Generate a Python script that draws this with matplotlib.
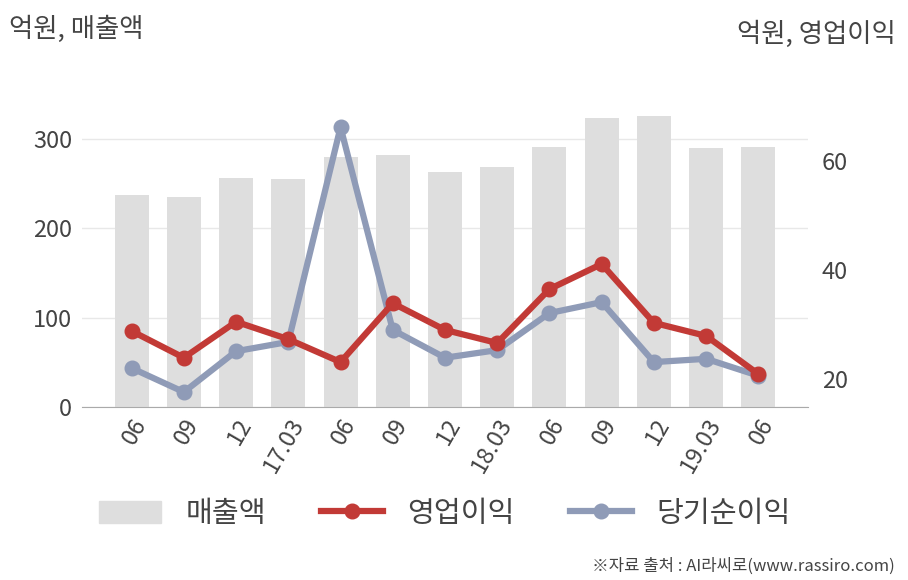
import matplotlib.pyplot as plt
import numpy as np
from matplotlib.patches import Patch
from matplotlib.lines import Line2D

plt.rcParams['font.family'] = ['Noto Sans CJK KR', 'DejaVu Sans']
plt.rcParams['font.weight'] = 'light'

# 분기 라벨
labels = ['06', '09', '12', '17.03', '06', '09', '12', '18.03', '06', '09', '12', '19.03', '06']
sales = [238, 235, 256, 255, 280, 282, 263, 269, 291, 324, 326, 290, 291]       # 매출액
op_profit = [28.8, 23.9, 30.5, 27.3, 23.1, 33.9, 29.0, 26.6, 36.5, 41.1, 30.3, 27.9, 20.9]  # 영업이익
net_profit = [22.0, 17.6, 25.1, 26.8, 66.2, 29.0, 23.9, 25.3, 32.1, 34.1, 23.1, 23.7, 20.6]  # 당기순이익

bar_col = '#dedede'
red = '#c23a36'
blue = '#8f9bb7'
txt = '#444444'

fig = plt.figure(figsize=(9.08, 5.80), dpi=100)
ax = fig.add_axes([82/908, 1-407/580, (808-82)/908, (407-94.5)/580])
x = np.arange(len(labels))

ax.bar(x, sales, width=0.65, color=bar_col, zorder=1)
ax.set_ylim(0, 350)
ax.set_xlim(-0.95, 12.95)
ax.set_yticks([0, 100, 200, 300])
ax.grid(axis='y', color='#e8e8e8', linewidth=1, zorder=0)
ax.set_axisbelow(True)
for s in ['top', 'right', 'left']:
    ax.spines[s].set_visible(False)
ax.spines['bottom'].set_color('#aaaaaa')
ax.tick_params(axis='y', length=0, labelsize=17, labelcolor=txt, pad=7)
ax.tick_params(axis='x', length=0, labelsize=17, labelcolor=txt, pad=5)
ax.set_xticks(x)
ax.set_xticklabels(labels, rotation=60, ha='right', rotation_mode='anchor')

ax2 = ax.twinx()
ax2.plot(x, net_profit, color=blue, lw=4.5, marker='o', ms=10.5, zorder=3)
ax2.plot(x, op_profit, color=red, lw=4.5, marker='o', ms=10.5, zorder=4)
ax2.set_ylim(14.86, 72.2)
ax2.set_yticks([20, 40, 60])
for s in ['top', 'right', 'left', 'bottom']:
    ax2.spines[s].set_visible(False)
ax2.tick_params(axis='y', length=0, labelsize=17, labelcolor=txt, pad=10)

fig.text(9/908, 1-29/580, '억원, 매출액', fontsize=19, color=txt, va='center', ha='left')
fig.text(896/908, 1-34/580, '억원, 영업이익', fontsize=19, color=txt, va='center', ha='right')

# 범례
handles = [Patch(color=bar_col),
           Line2D([], [], color=red, lw=4.5, marker='o', ms=10.5),
           Line2D([], [], color=blue, lw=4.5, marker='o', ms=10.5)]
fig.legend(handles, ['매출액', '영업이익', '당기순이익'], loc='center', bbox_to_anchor=(445/908, 1-514/580),
           ncol=3, frameon=False, fontsize=21, handlelength=2.1, handleheight=0.8, columnspacing=1.9,
           handletextpad=0.85, labelcolor=txt)

fig.text(895/908, 1-566/580, '※자료 출처 : AI라씨로(www.rassiro.com)', fontsize=12, color=txt, ha='right', va='center')

fig.savefig('out.png', dpi=100)
